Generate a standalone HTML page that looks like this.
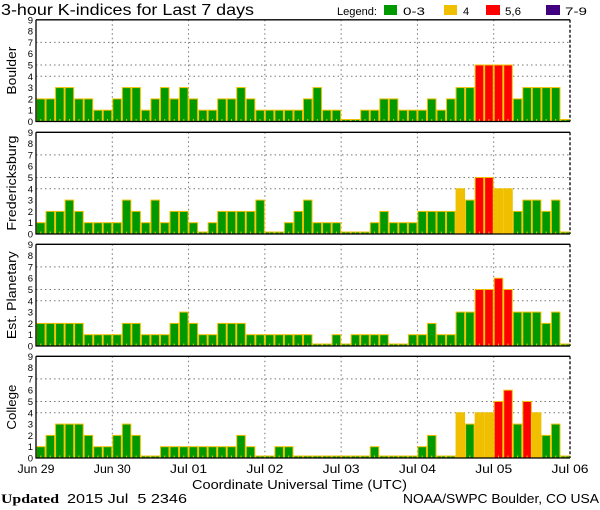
<!DOCTYPE html>
<html><head><meta charset="utf-8"><style>
body{margin:0;background:#fff;}
svg{display:block;font-family:"Liberation Sans",sans-serif;}
</style></head><body>
<svg id="chart" width="600" height="510" viewBox="0 0 600 510" xmlns="http://www.w3.org/2000/svg">
<text x="1" y="15" font-size="16" textLength="253" lengthAdjust="spacingAndGlyphs" fill="#000">3-hour K-indices for Last 7 days</text>
<g font-size="11">
<text x="337" y="15" textLength="40" lengthAdjust="spacingAndGlyphs">Legend:</text>
<rect x="384" y="5" width="13" height="10" fill="#009900"/>
<text x="403" y="15" textLength="22" lengthAdjust="spacingAndGlyphs">0-3</text>
<rect x="444" y="5" width="13" height="10" fill="#f0c000"/>
<text x="463" y="15">4</text>
<rect x="486" y="5" width="14" height="10" fill="#ff0000"/>
<text x="505" y="15" textLength="16" lengthAdjust="spacingAndGlyphs">5,6</text>
<rect x="546" y="5" width="14" height="10" fill="#400080"/>
<text x="565" y="15" textLength="22" lengthAdjust="spacingAndGlyphs">7-9</text>
</g>
<g id="panels"></g>
<text x="192" y="489" font-size="12.5" textLength="215" lengthAdjust="spacingAndGlyphs">Coordinate Universal Time (UTC)</text>
<text x="1" y="503" font-size="13" font-family="Liberation Serif, serif" font-weight="bold" textLength="58" lengthAdjust="spacingAndGlyphs">Updated</text>
<text x="67" y="503" font-size="12.5" xml:space="preserve" textLength="120" lengthAdjust="spacingAndGlyphs">2015 Jul  5 2346</text>
<text x="403" y="503" font-size="12.5" textLength="196" lengthAdjust="spacingAndGlyphs">NOAA/SWPC Boulder, CO USA</text>
</svg>
<script>
const stations = ["Boulder","Fredericksburg","Est. Planetary","College"];
const boulder = [2,2,3,3,2,2,1,1, 2,3,3,1,2,3,2,3, 2,1,1,2,2,3,2,1, 1,1,1,1,2,3,1,1, 0,0,1,1,2,2,1,1, 1,2,1,2,3,3,5,5, 5,5,2,3,3,3,3,0];
const fredericksburg = [1,2,2,3,2,1,1,1, 1,3,2,1,3,1,2,2, 1,0,1,2,2,2,2,3, 0,0,1,2,3,1,1,1, 0,0,0,1,2,1,1,1, 2,2,2,2,4,3,5,5, 4,4,2,3,3,2,3,0];
const planetary = [2,2,2,2,2,1,1,1, 1,2,2,1,1,1,2,3, 2,1,1,2,2,2,1,1, 1,1,1,1,1,0,0,1, 0,1,1,1,1,0,0,1, 1,2,1,1,3,3,5,5, 6,5,3,3,3,2,3,0];
const college = [1,2,3,3,3,2,1,1, 2,3,2,0,0,1,1,1, 1,1,1,1,1,2,1,0, 0,1,1,0,0,0,0,0, 0,0,0,1,0,0,0,0, 1,2,0,0,4,3,4,4, 5,6,3,5,4,2,3,0];
const dayLabels = ["Jun 29","Jun 30","Jul 01","Jul 02","Jul 03","Jul 04","Jul 05","Jul 06"];
const yTicks = [0,1,2,3,4,5,6,7,8,9];
const gridLevels = [4,5,7];

const series = [boulder, fredericksburg, planetary, college];
const NS = "http://www.w3.org/2000/svg";
const X0 = 36, X1 = 570, N = 56;
const tops = [19.8, 132.3, 244.3, 356.3], PH = 101.7;
const labelLens = [48, 95, 88, 45];
const bw = (X1 - X0) / N;
const xScale = i => X0 + i * bw;
function mk(tag, attrs, parent){const e=document.createElementNS(NS,tag);for(const k in attrs)e.setAttribute(k,attrs[k]);parent.appendChild(e);return e;}
function color(v){return v<=3?"#009900":v==4?"#f0c000":v<=6?"#ff0000":"#400080";}
const root = document.getElementById("panels");
series.forEach((data, p) => {
  const top = tops[p], bot = top + PH;
  const yScale = v => bot - v * PH / 9;
  const g = mk("g", {}, root);
  
  
  gridLevels.forEach(v => {
    const l = mk("line", {x1:X0,x2:X1,y1:yScale(v),y2:yScale(v),stroke:"#777","stroke-dasharray":"1.5,3"}, g);
    
    
  });
  for (let d = 1; d < 7; d++) {
    const l = mk("line", {x1:xScale(d*8),x2:xScale(d*8),y1:top,y2:bot,stroke:"#777","stroke-dasharray":"1.5,3"}, g);
    
    
  }
  data.forEach((v, i) => {
    const h = v === 0 ? 2 : v * PH / 9;
    const r = mk("rect", {x:xScale(i)+0.5, y:bot-h, width:bw-1, height:h, fill:color(v), stroke:"#f0c000", "stroke-width":1}, g);
    
    
    const t = mk("line", {x1:xScale(i)+bw/2,x2:xScale(i)+bw/2,y1:bot-2.5,y2:bot,stroke:"#f0c000"}, g);
    
    
  });
  const ax = mk("path", {d:`M${X0} ${top}V${bot}H${X1}M${X0} ${top}H${X1}`, stroke:"#000", "stroke-width":1.3, fill:"none"}, g);
  
  
  const re = mk("line", {x1:X1,x2:X1,y1:top,y2:bot,stroke:"#000","stroke-dasharray":"3,2","stroke-width":1.3}, g);
  
  
  yTicks.forEach(v => {
    const t = mk("text", {x:33, y:yScale(v)+3.5, "font-size":9.5, "text-anchor":"end"}, g);
    t.textContent = v;
    
    
  });
  const lab = mk("text", {x:0,y:0,"font-size":13,"text-anchor":"middle",textLength:labelLens[p],lengthAdjust:"spacingAndGlyphs",transform:`translate(16 ${top+PH/2}) rotate(-90)`}, g);
  lab.textContent = stations[p];
  
  
});
dayLabels.forEach((d, i) => {
  const t = mk("text", {x:xScale(i*8), y:473, "font-size":11.5, "text-anchor":"middle", textLength:37, lengthAdjust:"spacingAndGlyphs"}, document.getElementById("chart"));
  t.textContent = d;
  
  
});
</script>
</body></html>
